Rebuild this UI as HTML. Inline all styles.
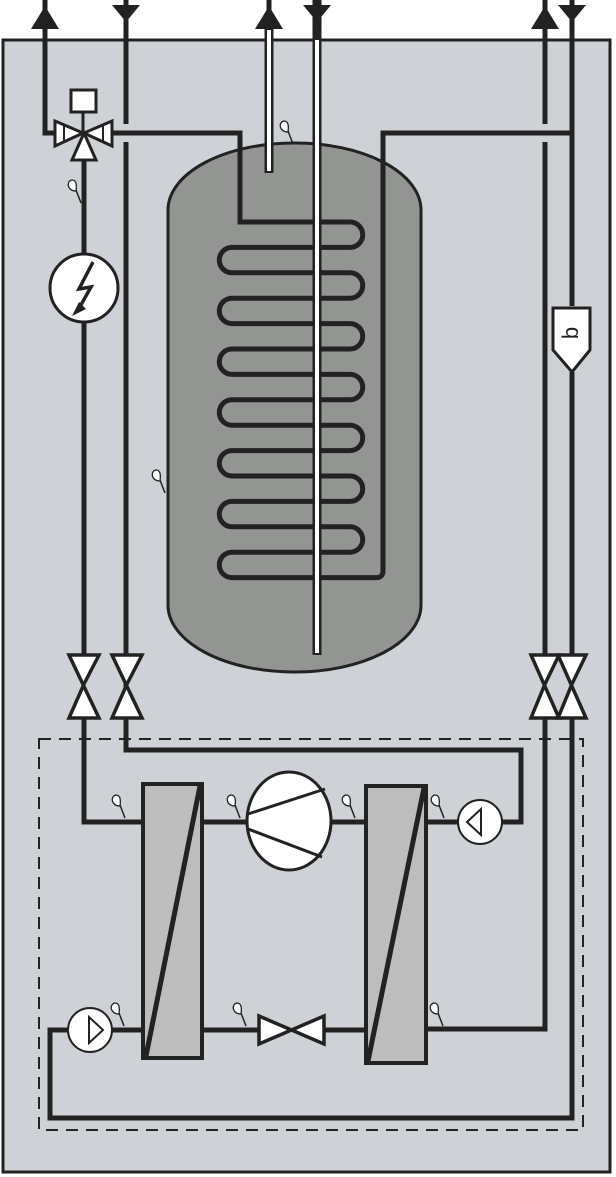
<!DOCTYPE html>
<html><head><meta charset="utf-8"><style>html,body{margin:0;padding:0;background:#fff}svg{display:block}</style></head><body>
<svg width="616" height="1177" viewBox="0 0 616 1177" xmlns="http://www.w3.org/2000/svg">
<defs>
<g id="s"><path d="M-5,-15 L0,-2" stroke="#222" stroke-width="1.5" fill="none"/><path d="M-5,-14 C-14,-14 -15,-24 -9,-25 C-5,-25 -4,-21 -5,-14 Z" fill="#fff" stroke="#222" stroke-width="1.3"/></g>
</defs>
<rect x="3" y="40" width="607" height="1132" fill="#ced1d5" stroke="#222" stroke-width="3"/>
<g fill="none" stroke="#222" stroke-width="5">
<path d="M45,25 V133 H57"/>
<path d="M126,15 V124 M126,142 V718 M126,718 V750 H521 V822 H500"/>
<path d="M84,153 V655 M84,718 V822 H143"/>
<path d="M112,133 H240 V222"/>
<path d="M545,25 V124 M545,142 V655 M545,718 V1029 H426"/>
<path d="M572,15 V306 M572,372 V655 M572,718 V1118 H50 V1030 H68"/>
<path d="M203,822 H247 M331,822 H365 M426,822 H458"/>
<path d="M203,1030 H258 M325,1030 H365 M112,1030 H143"/>
<path d="M383,578 V133 H572"/>
</g>
<rect x="168" y="143" width="253" height="529" rx="126" ry="67" fill="#939593" stroke="#222" stroke-width="3"/>
<path fill="none" stroke="#222" stroke-width="5" d="M240,133 V222 H350 a12.7,12.7 0 0 1 0,25.4 H232 a12.7,12.7 0 0 0 0,25.4 H350 a12.7,12.7 0 0 1 0,25.4 H232 a12.7,12.7 0 0 0 0,25.4 H350 a12.7,12.7 0 0 1 0,25.4 H232 a12.7,12.7 0 0 0 0,25.4 H350 a12.7,12.7 0 0 1 0,25.4 H232 a12.7,12.7 0 0 0 0,25.4 H350 a12.7,12.7 0 0 1 0,25.4 H232 a12.7,12.7 0 0 0 0,25.4 H350 a12.7,12.7 0 0 1 0,25.4 H232 a12.7,12.7 0 0 0 0,25.4 H350 a12.7,12.7 0 0 1 0,25.4 H232 a12.7,12.7 0 0 0 0,25.4 H376 q7,0 7,-7 V133"/>
<path d="M269,18 V173" stroke="#222" stroke-width="9"/><path d="M269,30 V171" stroke="#fff" stroke-width="4"/>
<path d="M317,0 V655" stroke="#222" stroke-width="9"/><path d="M317,40 V653" stroke="#fff" stroke-width="4"/>
<g fill="#222"><polygon points="31,29 59,29 45,6"/><polygon points="112,5 140,5 126,22"/><polygon points="255,29 283,29 269,6"/><polygon points="303,5 331,5 317,22"/><polygon points="531,29 559,29 545,6"/><polygon points="558,5 586,5 572,22"/></g>
<path d="M45,0 V10 M126,0 V8 M269,0 V10 M545,0 V10 M572,0 V8" stroke="#222" stroke-width="5"/>
<g stroke="#222" stroke-width="3" fill="#fff">
<rect x="71" y="90" width="25" height="22"/>
<path d="M83,112 V133" fill="none"/>
<polygon points="55,121 55,146 83,133"/><polygon points="112,121 112,146 84,133"/><polygon points="72,160 96,160 84,133"/>
<path d="M64,124 V142 M103,124 V142" fill="none" stroke-width="2"/>
</g>
<circle cx="84" cy="288" r="34" fill="#fff" stroke="#222" stroke-width="3"/>
<path d="M93,262 L79,289 L91,287 L77,312" fill="none" stroke="#222" stroke-width="3.5"/>
<polygon points="72,316 79,302 86,309" fill="#222"/>
<polygon points="553,308 590,308 590,350 572,372 553,350" fill="#fff" stroke="#222" stroke-width="3"/>
<text x="572" y="333" font-family="Liberation Sans, sans-serif" font-size="22" text-anchor="middle" dominant-baseline="middle" transform="rotate(90 572 333)" fill="#222">q</text>
<g fill="#fff" stroke="#222" stroke-width="3.5">
<polygon points="69,655 99,655 84,684 69,718 99,718"/>
<polygon points="112,655 142,655 127,684 112,718 142,718"/>
<polygon points="531,655 559,655 545,684 531,718 559,718"/>
<polygon points="558,655 586,655 572,684 558,718 586,718"/>
</g>
<rect x="39" y="739" width="544" height="391" fill="none" stroke="#222" stroke-width="2" stroke-dasharray="12,8"/>
<g stroke="#222" stroke-width="4">
<rect x="143" y="784" width="59" height="274" fill="#bdbdbd"/>
<line x1="200" y1="786" x2="146" y2="1056" stroke-width="5"/>
<rect x="366" y="786" width="60" height="277" fill="#bdbdbd"/>
<line x1="424" y1="788" x2="368" y2="1061" stroke-width="5"/>
</g>
<ellipse cx="289" cy="821" rx="42" ry="49" fill="#fff" stroke="#222" stroke-width="3"/>
<path d="M248,814 L325,789 M248,829 L322,857" stroke="#222" stroke-width="3"/>
<circle cx="480" cy="822" r="22" fill="#fff" stroke="#222" stroke-width="2"/>
<polygon points="467,822 481,809 481,835" fill="none" stroke="#222" stroke-width="2"/>
<circle cx="90" cy="1030" r="22" fill="#fff" stroke="#222" stroke-width="2"/>
<polygon points="103,1030 89,1017 89,1043" fill="none" stroke="#222" stroke-width="2"/>
<polygon points="259,1016 259,1044 324,1016 324,1044" fill="#fff" stroke="#222" stroke-width="3.5"/>
<use href="#s" x="293" y="146"/>
<use href="#s" x="81" y="205"/>
<use href="#s" x="165" y="495"/>
<use href="#s" x="125" y="820"/>
<use href="#s" x="240" y="820"/>
<use href="#s" x="355" y="820"/>
<use href="#s" x="444" y="820"/>
<use href="#s" x="124" y="1028"/>
<use href="#s" x="246" y="1028"/>
<use href="#s" x="443" y="1028"/>
</svg>
</body></html>
